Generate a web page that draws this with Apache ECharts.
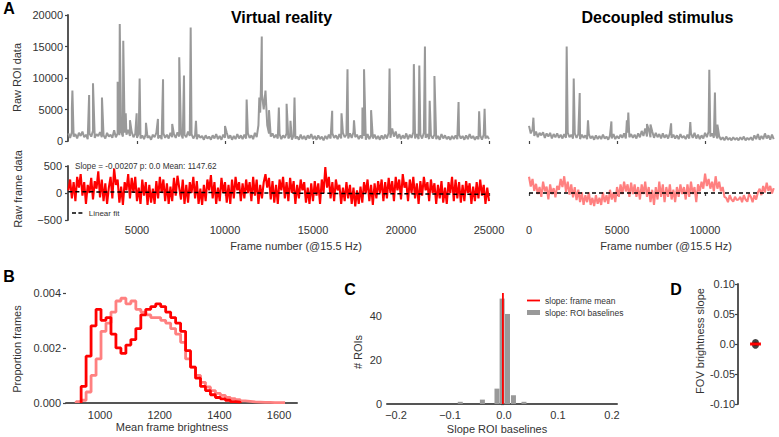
<!DOCTYPE html>
<html><head><meta charset="utf-8">
<script src="https://cdn.jsdelivr.net/npm/echarts@6/dist/echarts.min.js"></script>
<style>html,body{margin:0;padding:0;background:#fff}#c{width:779px;height:437px}</style>
</head><body><div id="c"></div>
<script>
// ---------- DATA ----------
// Panel A: sampling of the traces (frame index of first sample, frame step)
const vrStartFrame = 1100;
const decStartFrame = 0;
const frameStep = 100;

// Raw ROI data, virtual reality (baseline samples)
const vrRawBaseline = [
 1200,500,1400,700,1100,400,1300,800,1500,600,1000,300,1200,700,1600,500,1100,800,1400,600,
 900,400,1300,700,1000,500,1700,600,1200,900,1500,700,1300,1000,1800,800,1400,600,1100,500,
 1200,400,900,300,1100,500,800,200,1000,600,1300,400,900,300,1200,500,1000,400,1300,600,
 1100,500,1400,700,1200,400,1000,600,1500,800,1100,400,900,300,1000,500,800,200,900,400,
 700,200,900,400,1100,300,800,200,1000,500,1300,400,900,200,800,300,1100,400,900,300,
 1000,400,1200,500,900,300,1300,600,2500,4500,7500,5000,8000,2500,1200,700,1200,500,1000,400,
 1100,300,900,500,1200,400,800,200,900,400,700,200,1000,300,800,200,900,400,1100,300,
 800,200,900,300,700,100,800,300,1000,400,1200,500,900,300,1100,400,1300,600,1000,400,
 1200,500,1400,600,1000,300,900,400,800,200,1100,300,900,400,1000,300,800,200,900,300,
 1000,400,1300,500,2000,700,1500,400,1100,300,900,400,1200,300,1000,500,1400,400,1100,300,
 1000,400,1300,500,1100,300,900,400,1000,300,800,200,1100,400,900,300,700,200,800,300,
 900,300,1000,400,800,200,900,300,1100,400,800,200,700,300,900,200,1000,400,800,300
];
// Transient peaks [frame, value]
const vrRawSpikes = [
 [1300,5200],[1330,8000],[2280,7300],[2500,9150],[3010,6900],[3900,9400],[4020,18570],
 [4220,15900],[4360,4400],[4600,3300],[4980,4400],[5150,9900],[5510,2900],[6190,3500],
 [6480,9800],[7000,2700],[7400,13300],[7670,10400],[8050,18000],[8350,3200],[10000,2400],
 [11230,6600],[11950,6900],[12040,8200],[12090,16600],[12500,4900],[13060,5300],[13500,5900],
 [13720,3200],[13950,6900],[16090,4800],[16620,4400],[16960,11400],[17330,3300],[17810,5300],
 [17900,11400],[18300,4900],[19350,11500],[20730,12200],[21040,12000],[21360,15000],
 [21630,6400],[21900,10300],[23270,6200],[24440,4700],[24750,5100]
];

// Raw ROI data, decoupled stimulus
const decRawBaseline = [
 2400,1200,1800,800,1500,600,1300,900,1400,500,1200,700,1300,400,1100,600,1200,500,1000,400,
 1100,500,1300,600,1000,400,1200,500,1100,300,1000,500,900,300,1100,400,800,200,900,300,
 800,300,1000,400,700,200,900,400,1100,300,800,400,1000,500,1200,400,1300,600,1100,500,
 1000,400,1200,600,1600,800,2000,700,1800,600,1500,500,1300,600,1100,400,1200,500,1000,400,
 1200,500,1000,400,900,300,1100,500,800,300,1000,400,1200,500,1300,400,1000,300,900,400,
 1300,600,1500,700,1200,500,1100,400,800,200,600,100,700,200,500,100,600,200,500,100,
 600,200,700,100,500,200,600,100,900,300,1100,200,800,300,1200,400,900,200,1000,300
];
const decRawSpikes = [
 [250,3700],[2140,15000],[2540,9900],[2880,7600],[3350,3300],[4680,3100],[5560,3300],
 [5640,4500],[6700,2700],[6900,2600],[8070,2800],[9160,3000],[10240,11300],[10560,7700],[10700,2600]
];

// Raw frame data (mean-subtracted)
const vrFrameTrace = [
 50,250,-100,200,-150,300,100,350,-50,200,-200,150,0,280,-120,220,80,400,-80,250,
 -150,180,-200,100,300,-100,450,150,250,-180,120,-220,200,50,350,-100,280,0,300,-150,
 100,-200,250,-50,200,-220,150,-180,80,-200,220,-100,300,0,250,-150,180,-200,120,-150,
 280,-50,320,100,-120,250,-200,150,-180,200,0,300,-100,220,-200,80,-220,150,-150,250,
 50,330,-100,200,-200,100,-150,280,0,200,-180,150,-200,250,-100,300,50,200,-150,180,
 -100,250,0,200,-150,300,-50,250,-200,150,-100,200,350,100,280,-120,220,-180,150,-200,
 250,50,300,-100,200,-150,280,0,220,-200,150,-100,250,50,200,-180,100,-200,180,-150,
 220,-50,180,-200,250,0,480,100,300,-100,200,-150,250,50,150,-200,100,-150,200,-100,
 150,-200,100,-250,50,-200,120,-180,200,0,250,-150,150,-220,180,-100,220,0,250,-150,
 200,-100,280,0,220,-150,300,50,250,-120,350,100,200,-150,250,0,300,-100,180,-200,
 220,-50,300,50,200,-150,250,0,180,-200,150,-100,220,-180,100,-200,200,0,300,-150,
 250,-100,200,-180,150,-150,220,0,180,-200,120,-150,200,-100,250,-50,150,-200,100,-150
];
const decFrameTrace = [
 300,120,260,40,170,-20,110,-70,210,30,120,-120,160,-20,90,-80,130,60,260,110,
 310,20,210,-30,160,-80,110,-130,60,-170,10,-220,-40,-170,10,-220,-90,-240,-40,-200,
 -90,-220,10,-170,-40,-200,60,-120,10,-170,110,-70,160,-20,210,30,160,-70,190,-20,
 160,-70,110,-120,160,-20,210,-70,110,-170,60,-220,110,-120,210,-70,160,-170,110,-70,
 160,-120,60,-170,110,-70,160,-20,110,-120,160,-70,210,-20,110,-170,160,30,210,80,
 360,130,260,80,210,30,310,80,210,30,110,-70,-90,-170,-40,-120,-160,-70,-130,-120,
 -70,-170,-40,-120,-160,-20,-70,-170,-40,-120,10,80,-40,130,10,190,40,130,-10,90
];
const vrFit = [[1100, 24], [24900, -25]];
const decFit = [[0, 0], [13900, 0]];
const slopeText = 'Slope = -0.00207 p: 0.0 Mean: 1147.62';

// Panel B: histograms of mean frame brightness
const histVrEdges = [936.7,953.3,970,986.7,1003.3,1020,1036.7,1053.3,1070,1086.7,1103.3,1120,1136.7,1153.3,1170,1186.7,1203.3,1220,1236.7,1253.3,1270,1286.7,1303.3,1320,1336.7,1353.3,1370,1386.7,1403.3,1420,1436.7,1453.3,1470];
const histVrHeights = [0.0006,0.0017,0.0028,0.0034,0.0030,0.0031,0.0025,0.0020,0.0018,0.0021,0.0023,0.0027,0.0032,0.0034,0.0035,0.0036,0.0035,0.0033,0.0031,0.0029,0.0026,0.0019,0.0013,0.0009,0.0006,0.00045,0.0003,0.0002,0.00015,0.0001,0.00005,0.00003];
const histDecEdges = [920,936.7,953.3,970,986.7,1003.3,1020,1036.7,1053.3,1070,1086.7,1103.3,1120,1136.7,1153.3,1170,1186.7,1203.3,1220,1236.7,1253.3,1270,1286.7,1303.3,1320,1336.7,1353.3,1370,1386.7,1403.3,1420,1436.7,1453.3,1470,1486.7,1503.3,1520,1536.7,1553.3,1570,1586.7,1603.3,1620];
const histDecHeights = [0.00005,0.0001,0.0004,0.001,0.0016,0.0026,0.0029,0.0033,0.0037,0.0038,0.0036,0.0037,0.0034,0.0033,0.0032,0.0031,0.0031,0.0030,0.0029,0.0027,0.0025,0.0022,0.0016,0.0013,0.001,0.00075,0.00058,0.00045,0.00035,0.00028,0.0002,0.00016,0.00012,0.00008,0.00006,0.00004,0.00003,0.00002,0.00002,0.00001,0.00001,0.00001];

// Panel C: histogram of ROI baseline slopes
const roiSlopeBins = [-0.081,-0.040,-0.013,-0.0035,0.0065,0.0175,0.037];
const roiSlopeCounts = [1,2,7,48,41,4,1];
const frameMeanSlope = -0.002;
const frameMeanLineTop = 50.5;

// Panel D
const fovSlopes = [0.0025,-0.0021];
const fovMean = 0.0;

// Tick labels
const vrXTicks = [5000,10000,15000,20000,25000];
const decXTicks = [0,5000,10000];
const rawYTicks = [0,5000,10000,15000,20000];
const frameYTicks = [-500,0,500];
const histXTicks = [1000,1200,1400,1600];
const histYTicks = [0,0.002,0.004];
const slopeXTicks = [-0.2,-0.1,0,0.1,0.2];
const roiYTicks = [0,20,40];
const fovYTicks = [-0.1,-0.05,0,0.05,0.1];

// ---------- BUILD ----------
const FONT = "'Liberation Sans', Arial, Helvetica, sans-serif";
const TXT = '#333';
const AXC = '#444';
function seq(start, step, vals){ return vals.map((v,i)=>[start+i*step, v]); }
function withSpikes(base, spikes){ return base.concat(spikes).sort((a,b)=>a[0]-b[0]); }
function stepHist(edges, h){ const d=[[edges[0],0]]; h.forEach((v,i)=>d.push([edges[i],v])); d.push([edges[edges.length-1],0]); return d; }
const plain = v => String(v);
const minus = v => (v<0 ? '\u2212'+Math.abs(v) : String(v));

const lbl = (extra) => Object.assign({color:TXT, fontSize:11, fontFamily:FONT, formatter:plain}, extra||{});
const tick = (extra) => Object.assign({show:true, length:3, lineStyle:{color:AXC, width:1.2}}, extra||{});
const line = (show) => ({show:show, lineStyle:{color:AXC, width:1.8}});

const chart = echarts.init(document.getElementById('c'), null, {renderer:'svg'});

const textEl = (t, x, y, size, opts) => Object.assign({
  type:'text', x:x, y:y,
  style:{text:t, fill:(opts&&opts.fill)||TXT, font:((opts&&opts.bold)?'bold ':'')+size+'px '+FONT,
    textAlign:'center', textVerticalAlign:'middle', align:'center', verticalAlign:'middle'}
}, (opts&&opts.rot)?{rotation:Math.PI/2}:{});

const legendText = {fontSize:8.5, color:TXT, fontFamily:FONT};

const option = {
  animation:false,
  backgroundColor:'#fff',
  textStyle:{fontFamily:FONT},
  grid:[
    {left:68, top:15, width:421, height:126, outerBoundsMode:'none'},
    {left:529, top:15, width:246.5, height:126, outerBoundsMode:'none'},
    {left:68, top:166, width:421, height:54, outerBoundsMode:'none'},
    {left:529, top:166, width:246.5, height:54, outerBoundsMode:'none'},
    {left:66, top:290, width:231, height:113, outerBoundsMode:'none'},
    {left:387, top:292, width:230, height:112, outerBoundsMode:'none'},
    {left:738, top:284, width:35, height:120, outerBoundsMode:'none'}
  ],
  xAxis:[
    {gridIndex:0, type:'value', min:1080, max:25000, offset:3, axisLine:line(false), splitLine:{show:false},
      axisTick:tick({customValues:vrXTicks}), axisLabel:{show:false}},
    {gridIndex:1, type:'value', min:0, max:14000, offset:3, axisLine:line(false), splitLine:{show:false},
      axisTick:tick({customValues:decXTicks}), axisLabel:{show:false}},
    {gridIndex:2, type:'value', min:1080, max:25000, axisLine:line(false), splitLine:{show:false},
      axisTick:tick({customValues:vrXTicks}), axisLabel:lbl({customValues:vrXTicks, margin:4})},
    {gridIndex:3, type:'value', min:0, max:14000, axisLine:line(false), splitLine:{show:false},
      axisTick:tick({customValues:decXTicks}), axisLabel:lbl({customValues:decXTicks, margin:4})},
    {gridIndex:4, type:'value', min:886, max:1660, axisLine:{show:true, lineStyle:{color:'#555', width:2}}, splitLine:{show:false},
      axisTick:{show:false}, axisLabel:lbl({customValues:histXTicks, margin:6})},
    {gridIndex:5, type:'value', min:-0.2167, max:0.2093, axisLine:{show:true, lineStyle:{color:'#555', width:2}}, splitLine:{show:false},
      axisTick:{show:false}, axisLabel:lbl({customValues:slopeXTicks, margin:5,
        formatter:v=> (Math.abs(v)<1e-9 ? '0.0' : (v<0?'\u2212':'')+Math.abs(v).toFixed(1))})},
    {gridIndex:6, type:'value', min:0, max:2, show:false}
  ],
  yAxis:[
    {gridIndex:0, type:'value', min:0, max:20000, interval:5000, axisLine:line(true), splitLine:{show:false},
      axisTick:tick(), axisLabel:lbl({margin:5})},
    {gridIndex:1, type:'value', min:0, max:20000, show:false},
    {gridIndex:2, type:'value', min:-500, max:500, interval:500, axisLine:line(true), splitLine:{show:false},
      axisTick:tick(), axisLabel:lbl({margin:6, formatter:minus})},
    {gridIndex:3, type:'value', min:-500, max:500, show:false},
    {gridIndex:4, type:'value', min:0, max:0.0041, axisLine:line(false), splitLine:{show:false},
      axisTick:tick({customValues:histYTicks}), axisLabel:lbl({customValues:histYTicks, margin:5, formatter:v=>v.toFixed(3)})},
    {gridIndex:5, type:'value', min:0, max:51, axisLine:line(false), splitLine:{show:false},
      axisTick:tick({customValues:roiYTicks}), axisLabel:lbl({customValues:roiYTicks, margin:5})},
    {gridIndex:6, type:'value', min:-0.1, max:0.1, interval:0.05, axisLine:line(true), splitLine:{show:false},
      axisTick:tick(), axisLabel:lbl({margin:3, formatter:v=> Math.abs(v)<1e-9 ? '0.0' : v.toFixed(2)})}
  ],
  legend:[
    {data:[{name:'Linear fit', icon:'path://M0,0H5V2H0Z M8,0H13V2H8Z'}], left:72, top:209, orient:'horizontal', padding:0,
      itemWidth:13, itemHeight:1.6, itemGap:4, selectedMode:false, itemStyle:{color:'#000'},
      textStyle:{fontSize:8, color:TXT, fontFamily:FONT}},
    {data:[{name:'slope: frame mean', icon:'rect'}], left:527, top:296, orient:'vertical', padding:0,
      itemWidth:13, itemHeight:1.8, selectedMode:false, textStyle:legendText},
    {data:[{name:'slope: ROI baselines', icon:'rect'}], left:527, top:308, orient:'vertical', padding:0,
      itemWidth:13, itemHeight:5, selectedMode:false, textStyle:legendText}
  ],
  series:[
    {type:'line', name:'vrRaw', xAxisIndex:0, yAxisIndex:0, symbol:'none', color:'#999',
      lineStyle:{width:2, color:'#999'}, data:withSpikes(seq(vrStartFrame, frameStep, vrRawBaseline), vrRawSpikes)},
    {type:'line', name:'decRaw', xAxisIndex:1, yAxisIndex:1, symbol:'none', color:'#999',
      lineStyle:{width:2, color:'#999'}, data:withSpikes(seq(decStartFrame, frameStep, decRawBaseline), decRawSpikes)},
    {type:'line', name:'vrFrame', xAxisIndex:2, yAxisIndex:2, symbol:'none', color:'#ff0000',
      lineStyle:{width:2.1, color:'#ff0000'}, data:seq(vrStartFrame, frameStep, vrFrameTrace)},
    {type:'line', name:'Linear fit', xAxisIndex:2, yAxisIndex:2, symbol:'none', color:'#000',
      lineStyle:{width:1.5, color:'#000', type:[4,3]}, data:vrFit, z:5},
    {type:'line', name:'decFrame', xAxisIndex:3, yAxisIndex:3, symbol:'none', color:'#ff8080',
      lineStyle:{width:2.1, color:'#ff8080'}, data:seq(decStartFrame, frameStep, decFrameTrace)},
    {type:'line', name:'decFit', xAxisIndex:3, yAxisIndex:3, symbol:'none', color:'#000',
      lineStyle:{width:1.5, color:'#000', type:[4,3]}, data:decFit, z:5},
    {type:'line', name:'histDec', xAxisIndex:4, yAxisIndex:4, symbol:'none', step:'end', color:'#ff8080',
      lineStyle:{width:2.8, color:'#ff8080'}, data:stepHist(histDecEdges, histDecHeights)},
    {type:'line', name:'histVr', xAxisIndex:4, yAxisIndex:4, symbol:'none', step:'end', color:'#ff0000',
      lineStyle:{width:2.8, color:'#ff0000'}, data:stepHist(histVrEdges, histVrHeights)},
    {type:'bar', name:'slope: ROI baselines', xAxisIndex:5, yAxisIndex:5, barWidth:5, color:'#999',
      itemStyle:{color:'#999'}, data:roiSlopeBins.map((x,i)=>[x, roiSlopeCounts[i]])},
    {type:'line', name:'slope: frame mean', xAxisIndex:5, yAxisIndex:5, symbol:'none', color:'#ff0000',
      lineStyle:{width:1.8, color:'#ff0000'}, data:[[frameMeanSlope,0],[frameMeanSlope,frameMeanLineTop]], z:5},
    {type:'scatter', name:'fov', xAxisIndex:6, yAxisIndex:6, symbolSize:7, itemStyle:{color:'#111'},
      data:fovSlopes.map(v=>[1, v])},
    {type:'line', name:'fovMean', xAxisIndex:6, yAxisIndex:6, symbol:'none', color:'#ff0000', z:5,
      lineStyle:{width:3, color:'#ff0000'}, data:[[0.69, fovMean],[1.31, fovMean]]}
  ],
  graphic:[
    textEl('A', 9, 8, 16, {bold:true, fill:'#000'}),
    textEl('B', 9, 276, 16, {bold:true, fill:'#000'}),
    textEl('C', 350, 289, 16, {bold:true, fill:'#000'}),
    textEl('D', 676, 289, 16, {bold:true, fill:'#000'}),
    textEl('Virtual reality', 281.5, 17, 16, {bold:true, fill:'#000'}),
    textEl('Decoupled stimulus', 657.5, 17, 16, {bold:true, fill:'#000'}),
    textEl('Raw ROI data', 17, 77.5, 11, {rot:true}),
    textEl('Raw frame data', 18, 189, 11, {rot:true}),
    textEl('Frame number (@15.5 Hz)', 296, 246, 11),
    textEl('Frame number (@15.5 Hz)', 666, 246, 11),
    textEl('Proportion frames', 17, 349, 11, {rot:true}),
    textEl('Mean frame brightness', 172, 427, 11),
    textEl('# ROIs', 358, 352, 11, {rot:true}),
    textEl('Slope ROI baselines', 497, 429, 11),
    textEl('FOV brightness slope', 700, 341, 11, {rot:true}),
    {type:'text', x:75, y:166, style:{text:slopeText, fill:TXT, font:'8.2px '+FONT,
      textAlign:'left', textVerticalAlign:'middle', align:'left', verticalAlign:'middle'}}
  ]
};
chart.setOption(option);
</script></body></html>
